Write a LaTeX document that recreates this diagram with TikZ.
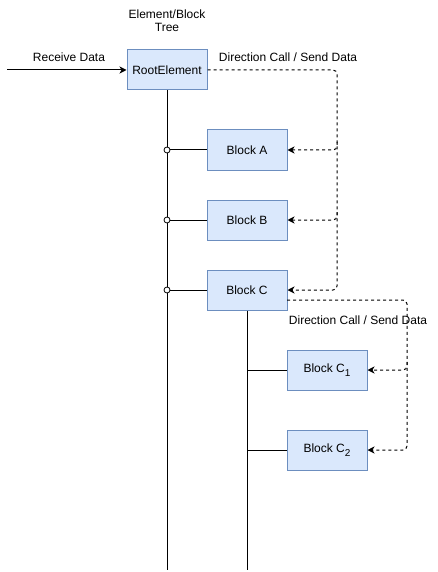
\documentclass[tikz,border=0pt]{standalone}
\usepackage{fontspec}
\setmainfont{Liberation Sans}
\usetikzlibrary{arrows.meta}
\definecolor{boxfill}{HTML}{DAE8FC}
\definecolor{boxline}{HTML}{6C8EBF}
\newcommand{\mysub}[1]{\raisebox{-3.5pt}{\fontsize{10}{10}\selectfont #1}}
\begin{document}
\begin{tikzpicture}[x=1pt,y=-1pt,
  every node/.style={font=\fontsize{12}{14}\selectfont},
  blk/.style={draw=boxline,fill=boxfill,line width=1pt,minimum width=80pt,minimum height=40pt,inner sep=0pt},
  lbl/.style={inner sep=0pt,align=center},
  solidline/.style={line width=1pt,black},
  call/.style={line width=1pt,dash pattern=on 3pt off 3pt,rounded corners=4pt,-{Stealth[length=7pt,width=7pt,inset=2pt]}},
  knot/.style={circle,draw,fill=white,line width=0.8pt,minimum size=6pt,inner sep=0pt},
]
\useasboundingbox (0,0) rectangle (438,572);
\node[lbl] (title) at (167,21) {Element/Block\\[-1pt]Tree};
\node[blk] (root) at (167,70) {RootElement};
\node[blk] (A) at (247,150) {Block A};
\node[blk] (B) at (247,220) {Block B};
\node[blk] (C) at (247,290) {Block C};
\node[blk] (C1) at (327,370) {Block C\mysub{1}};
\node[blk] (C2) at (327,450) {Block C\mysub{2}};
\coordinate (in) at (7,70);
\coordinate (trunkend) at (167,570);
\coordinate (subend) at (247,570);
\coordinate (cout) at (287,300);
\coordinate (jA) at (337,142);
\coordinate (jB) at (337,212);
\coordinate (jC1) at (407,362);
\node[lbl] (recv) at (69,57) {Receive Data};
\node[lbl] (dc1) at (288,57) {Direction Call / Send Data};
\node[lbl] (dc2) at (358,320) {Direction Call / Send Data};
% input
\draw[solidline,-{Stealth[length=7pt,width=7pt,inset=2pt]}] (in) -- (root.west);
% trunks
\draw[solidline] (root.south) -- (trunkend);
\draw[solidline] (C.south) -- (subend);
% branches
\node[knot] (kA) at (167,150) {};
\node[knot] (kB) at (167,220) {};
\node[knot] (kC) at (167,290) {};
\draw[solidline] (kA.east) -- (A.west);
\draw[solidline] (kB.east) -- (B.west);
\draw[solidline] (kC.east) -- (C.west);
\draw[solidline] (247,370) -- (C1.west);
\draw[solidline] (247,450) -- (C2.west);
% direction calls
\draw[call] (root.east) -- (337,70) -- (337,290) -- (C.east);
\draw[call] (jA) -- (337,150) -- (A.east);
\draw[call] (jB) -- (337,220) -- (B.east);
\draw[call] (cout) -- (407,300) -- (407,450) -- (C2.east);
\draw[call] (jC1) -- (407,370) -- (C1.east);
\end{tikzpicture}
\end{document}
